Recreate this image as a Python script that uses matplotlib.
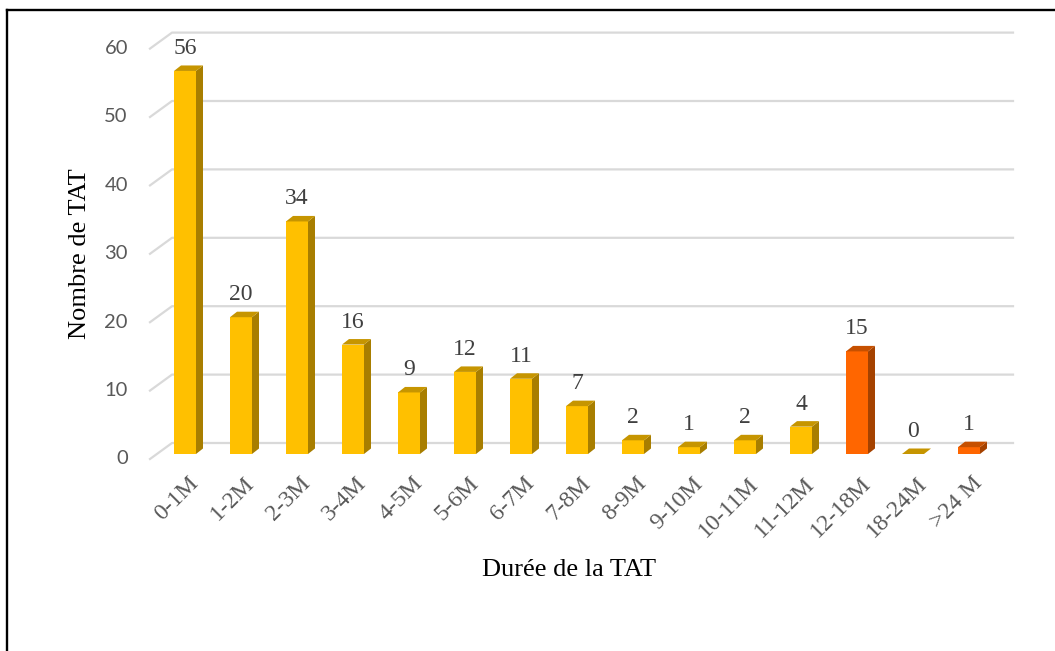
import matplotlib.pyplot as plt
from matplotlib.patches import Polygon
from matplotlib.lines import Line2D

categories = ['0-1M', '1-2M', '2-3M', '3-4M', '4-5M', '5-6M', '6-7M', '7-8M',
              '8-9M', '9-10M', '10-11M', '11-12M', '12-18M', '18-24M', '>24 M']
values = [56, 20, 34, 16, 9, 12, 11, 7, 2, 1, 2, 4, 15, 0, 1]
highlight = ['12-18M', '>24 M']
yticks = [0, 10, 20, 30, 40, 50, 60]

# couleurs (face, côté, dessus)
yellow = ('#FFC000', '#A87E00', '#C69500')
orange = ('#FF6600', '#A54200', '#C65000')

fig = plt.figure(figsize=(10.55, 6.51), dpi=100)
ax = fig.add_axes([157 / 1055, 197 / 651, 840 / 1055, 410.4 / 651])
ax.set_xlim(-0.5, len(categories) - 0.5)
ax.set_ylim(0, 60)
ax.axis('off')

# taille d'un pixel en unités de données
px = 1 / 56
py = 60 / 410.4

# grille sur le mur du fond
for v in yticks:
    ax.plot([-0.625, -0.232, 14.786], [v - 5 * py, v + 11 * py, v + 11 * py],
            color='#D9D9D9', lw=1.6, clip_on=False, zorder=1)
    ax.text(-1.02, v - 5 * py, str(v), ha='right', va='center',
            fontsize=14.5, color='#595959', family='Lato')

half = 11 * px
dx, dy = 7 * px, 5.5 * py
for i, (cat, v) in enumerate(zip(categories, values)):
    face, side, top = orange if cat in highlight else yellow
    x0, x1 = i - half, i + half
    ax.add_patch(Polygon([(x0, 0), (x1, 0), (x1, v), (x0, v)],
                         closed=True, fc=face, ec='none', zorder=3))
    ax.add_patch(Polygon([(x1, 0), (x1 + dx, dy), (x1 + dx, v + dy), (x1, v)],
                         closed=True, fc=side, ec='none', zorder=3))
    ax.add_patch(Polygon([(x0, v), (x1, v), (x1 + dx, v + dy), (x0 + dx, v + dy)],
                         closed=True, fc=top, ec='none', zorder=3, clip_on=False))
    ax.annotate(str(v), (i, v), xytext=(0, 12.2), textcoords='offset points',
                ha='center', va='baseline', fontsize=17, color='#404040',
                family='Liberation Serif', annotation_clip=False)
    ax.text(i + 3 * px, -19 * py, cat, rotation=45, rotation_mode='anchor',
            ha='right', va='top', fontsize=17, color='#595959',
            family='Liberation Serif')

fig.text(80 / 1055, 1 - 254 / 651, 'Nombre de TAT', rotation=90, ha='center',
         va='center', fontsize=19, family='Liberation Serif', color='black')
fig.text(569 / 1055, 1 - 570 / 651, 'Durée de la TAT', ha='center',
         va='center', fontsize=19, family='Liberation Serif', color='black')

# cadre (haut et gauche)
fig.add_artist(Line2D([7 / 1055, 1.0], [1 - 9.5 / 651, 1 - 9.5 / 651],
                      color='black', lw=1.7))
fig.add_artist(Line2D([7 / 1055, 7 / 1055], [0, 1 - 9.5 / 651],
                      color='black', lw=1.7))

fig.savefig('out.png', dpi=100)
